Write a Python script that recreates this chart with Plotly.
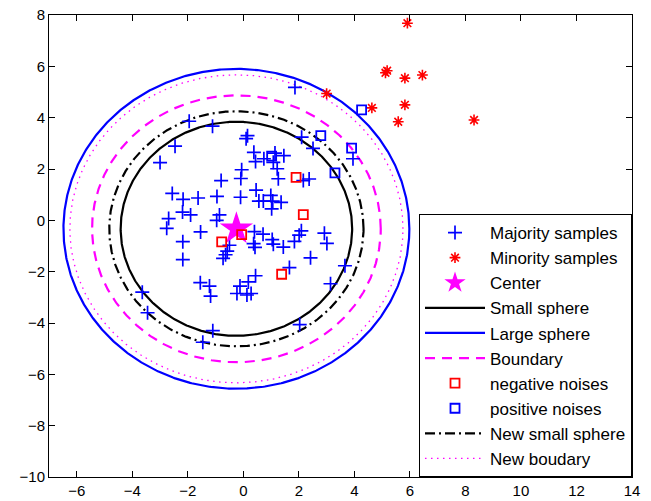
import numpy as np
import plotly.graph_objects as go

# ---- data ----
maj_x = [1.86, -1.95, -1.11, -2.46, -3.00, 0.15, 0.10, 2.10, 2.51, 0.38, 0.44, -0.06, -0.09, -0.80,
         0.74, 1.14, 1.08, 1.46, 1.22, 1.26, 2.16, 2.37,
         -2.56, -2.17, -1.63, -0.95, -0.10, 0.46, 0.56, 0.72, 0.99, 1.06, 1.36, 1.02,
         -2.69, -2.76, -2.19, -1.90, -0.86, -0.96, -1.54, -2.18, -2.18,
         0.40, 0.71, 0.37, 0.42, 1.04, 1.08, 1.44, 1.84, 2.01, 2.09, 2.92, 3.01, 2.42,
         -0.50, -0.58, -0.64, -0.73, 1.66, 3.66, 3.14,
         -3.64, -3.45, -1.55, -1.22, -1.18, -1.10, -1.46, -0.12, -0.23, 0.18, 0.44, 0.13, 0.28,
         2.03, 3.95]
maj_y = [5.18, 3.86, 3.67, 2.89, 2.25, 3.30, 3.18, 3.24, 2.80, 2.65, 2.29, 1.97, 1.63, 1.55,
         2.40, 2.62, 2.26, 2.52, 2.01, 1.62, 1.55, 1.61,
         1.05, 0.82, 0.87, 0.93, 0.90, 1.18, 0.75, 0.75, 0.97, 0.75, 0.70, 0.45,
         0.07, -0.31, 0.32, 0.21, 0.21, 0.00, -0.45, -0.83, -1.53,
         -0.44, -0.54, -0.91, -1.05, -0.75, -0.93, -1.04, -0.82, -0.58, -0.41, -0.50, -0.90, -1.46,
         -0.97, -1.20, -1.34, -1.48, -1.84, -1.77, -2.47,
         -2.80, -3.60, -2.43, -2.56, -2.95, -4.30, -4.75, -2.56, -2.85, -2.40, -2.16, -2.91, -2.85,
         -4.06, 2.40]

min_x = [5.91, 5.18, 5.12, 5.82, 6.45, 3.00, 4.63, 5.82, 5.58, 8.31]
min_y = [7.68, 5.83, 5.75, 5.54, 5.66, 4.94, 4.38, 4.50, 3.84, 3.91]

center_x = [-0.25]
center_y = [-0.33]

neg_x = [1.90, 2.16, -0.06, -0.78, 1.38]
neg_y = [1.67, 0.22, -0.56, -0.84, -2.10]

pos_x = [1.02, 2.79, 3.30, 3.90, 4.26]
pos_y = [2.50, 3.30, 1.85, 2.81, 4.30]

r_small = 4.17
r_large = 6.23
r_boundary = 5.2
r_new_small = 4.58
r_new_boundary = 6.0

x_ticks = list(range(-6, 15, 2))
y_ticks = list(range(-10, 9, 2))

theta = np.linspace(0, 2 * np.pi, 721)


def circle(r):
    return center_x[0] + r * np.cos(theta), center_y[0] + r * np.sin(theta)


fig = go.Figure()

# circles first (drawn underneath), legend order fixed through legendrank
cx, cy = circle(r_small)
fig.add_trace(go.Scatter(x=cx, y=cy, mode="lines", name="Small sphere", legendgroup="d", legendrank=4,
                         line=dict(color="black", width=2.2)))
cx, cy = circle(r_large)
fig.add_trace(go.Scatter(x=cx, y=cy, mode="lines", name="Large sphere", legendgroup="e", legendrank=5,
                         line=dict(color="#0000FF", width=2.2)))
cx, cy = circle(r_boundary)
fig.add_trace(go.Scatter(x=cx, y=cy, mode="lines", name="Boundary", legendgroup="f", legendrank=6,
                         line=dict(color="#FF00FF", width=2.2, dash="10px,7px")))
cx, cy = circle(r_new_small)
fig.add_trace(go.Scatter(x=cx, y=cy, mode="lines", name="New small sphere", legendgroup="i", legendrank=9,
                         line=dict(color="black", width=2.2, dash="10px,4px,2px,4px")))
cx, cy = circle(r_new_boundary)
fig.add_trace(go.Scatter(x=cx, y=cy, mode="lines", name="New boudary", legendgroup="j", legendrank=10,
                         line=dict(color="#FF00FF", width=1.3, dash="1.5px,4.5px")))

fig.add_trace(go.Scatter(x=maj_x, y=maj_y, mode="markers", name="Majority samples",
                         legendgroup="a", legendrank=1,
                         marker=dict(symbol="cross-thin", size=10, color="#0000FF",
                                     line=dict(color="#0000FF", width=1.7))))
fig.add_trace(go.Scatter(x=min_x, y=min_y, mode="markers", name="Minority samples",
                         legendgroup="b", legendrank=2,
                         marker=dict(symbol="asterisk-open", size=9, color="#FF0000",
                                     line=dict(color="#FF0000", width=1.6))))
fig.add_trace(go.Scatter(x=center_x, y=center_y, mode="markers", name="Center",
                         legendgroup="c", legendrank=3,
                         marker=dict(symbol="star", size=25, color="#FF00FF", line=dict(width=0))))
fig.add_trace(go.Scatter(x=neg_x, y=neg_y, mode="markers", name="negative noises",
                         legendgroup="g", legendrank=7,
                         marker=dict(symbol="square-open", size=9, color="#FF0000",
                                     line=dict(color="#FF0000", width=1.8))))
fig.add_trace(go.Scatter(x=pos_x, y=pos_y, mode="markers", name="positive noises",
                         legendgroup="h", legendrank=8,
                         marker=dict(symbol="square-open", size=9, color="#0000FF",
                                     line=dict(color="#0000FF", width=1.8))))

axis_common = dict(showline=True, linecolor="black", linewidth=1, mirror="ticks",
                   ticks="inside", ticklen=6, tickwidth=1, tickcolor="black",
                   showgrid=False, zeroline=False, automargin=False,
                   tickfont=dict(family="Liberation Sans, Arial", size=15, color="black"))

fig.update_layout(
    width=651, height=501,
    margin=dict(l=49, r=19, t=15, b=24),
    paper_bgcolor="white", plot_bgcolor="white",
    showlegend=True,
    legend=dict(x=1, y=0, xanchor="right", yanchor="bottom",
                bgcolor="white", bordercolor="black", borderwidth=1,
                font=dict(family="Liberation Sans, Arial", size=17, color="black"),
                traceorder="grouped", tracegroupgap=0, itemwidth=60),
    xaxis=dict(range=[-7, 14], tickvals=x_ticks, **axis_common),
    yaxis=dict(range=[-10, 8], tickvals=y_ticks, **axis_common),
)

fig.write_html("out.html")
